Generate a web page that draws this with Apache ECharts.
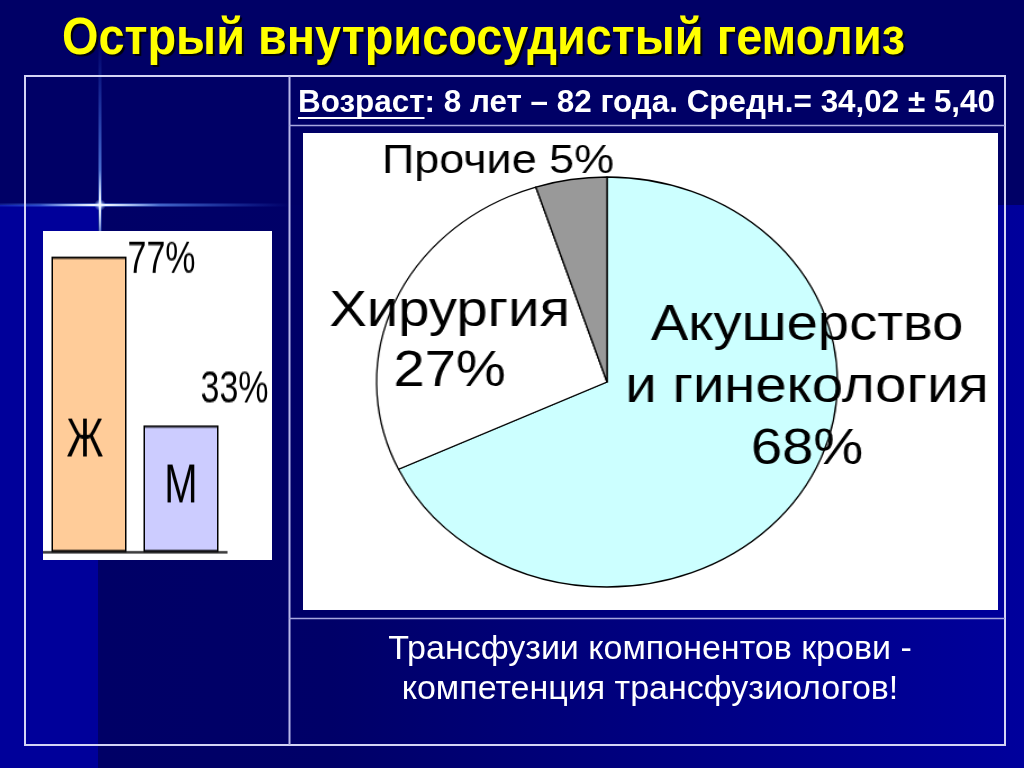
<!DOCTYPE html>
<html><head><meta charset="utf-8">
<script src="https://cdn.jsdelivr.net/npm/echarts@6/dist/echarts.min.js"></script>
<style>
html,body{margin:0;padding:0;background:#000066;overflow:hidden;width:1024px;height:768px}
#main{position:absolute;left:0;top:0;width:1024px;height:768px}
#bars{position:absolute;left:43px;top:231px;width:229px;height:244px;transform:scaleY(1.35);transform-origin:0 0}
#pie{position:absolute;left:303px;top:133px;width:695px;height:477px;transform:scaleX(1.124);transform-origin:304px 0}
</style></head><body>
<div id="main"></div><div id="bars"></div><div id="pie"></div>
<script>
// ---- data ----
const titleText = 'Острый внутрисосудистый гемолиз';
const ageLabel = 'Возраст';
const ageRest = ': 8 лет – 82 года. Средн.= 34,02 ± 5,40';
const noteLines = ['Трансфузии компонентов крови -', 'компетенция трансфузиологов!'];
const sexCategories = ['Ж', 'М'];
const sexValues = [77, 33];
const profileCategories = ['Акушерство\nи гинекология', 'Хирургия', 'Прочие'];
const profileValues = [68, 27, 5];

// ---- styles ----
const SANS = '"Liberation Sans",Arial,sans-serif';
const sexColors = ['#FFCC99', '#CCCCFF'];
const sexNameOffsets = [[-4, 28], [0, -1]];
const sexPctPos = [[76, -14], [57, -43]];
const profileColors = ['#CCFFFF', '#FFFFFF', '#999999'];
const profileLabelPos = [[482, 255, 62], [164, 209, 60], [207, 29, 44]];
const profileFontSize = [50, 50, 40];

function measure(text, font) {
  const c = document.createElement('canvas').getContext('2d');
  c.font = font; return c.measureText(text).width;
}
const titleFont = 'bold 52px ' + SANS;
const titleScale = 843 / measure(titleText, titleFont);
const ageFont = 'bold 32px ' + SANS;
const ageScale = 697 / measure(ageLabel + ageRest, ageFont);
const ageLabelW = measure(ageLabel, ageFont) * ageScale;

const G = echarts.graphic;
const lineCol = '#d4d4f4';
const graphics = [
  {type:'rect', shape:{x:0,y:0,width:1024,height:768}, style:{fill:'#00009a'}, z:-20, silent:true},
  {type:'rect', shape:{x:98,y:205,width:926,height:563}, style:{fill:new G.LinearGradient(0,0,1,0,[{offset:0,color:'#000066'},{offset:0.25,color:'#000068'},{offset:1,color:'#00009c'}])}, z:-19, silent:true},
  {type:'rect', shape:{x:0,y:0,width:1024,height:205}, style:{fill:'#000066'}, z:-18, silent:true},
  // star glow
  {type:'rect', shape:{x:0,y:203.5,width:290,height:3}, style:{fill:new G.LinearGradient(0,0,1,0,[{offset:0,color:'rgba(60,120,255,0.25)'},{offset:0.34,color:'rgba(120,170,255,0.95)'},{offset:1,color:'rgba(60,120,255,0)'}])}, z:-17, silent:true},
  {type:'rect', shape:{x:40,y:204,width:120,height:2}, style:{fill:new G.LinearGradient(0,0,1,0,[{offset:0,color:'rgba(255,255,255,0)'},{offset:0.5,color:'rgba(255,255,255,1)'},{offset:1,color:'rgba(255,255,255,0)'}])}, z:-16, silent:true},
  {type:'rect', shape:{x:98.5,y:40,width:3,height:200}, style:{fill:new G.LinearGradient(0,0,0,1,[{offset:0,color:'rgba(60,120,255,0)'},{offset:0.82,color:'rgba(120,170,255,0.85)'},{offset:1,color:'rgba(60,120,255,0.4)'}])}, z:-17, silent:true},
  {type:'rect', shape:{x:99,y:170,width:2,height:70}, style:{fill:new G.LinearGradient(0,0,0,1,[{offset:0,color:'rgba(255,255,255,0)'},{offset:0.5,color:'rgba(255,255,255,1)'},{offset:1,color:'rgba(255,255,255,0)'}])}, z:-16, silent:true},
  {type:'circle', shape:{cx:100,cy:205,r:6}, style:{fill:new G.RadialGradient(0.5,0.5,0.5,[{offset:0,color:'rgba(255,255,255,1)'},{offset:1,color:'rgba(150,190,255,0)'}])}, z:-15, silent:true},
  // table
  {type:'rect', shape:{x:25,y:76,width:980,height:669}, style:{fill:'none',stroke:lineCol,lineWidth:2}, z:-10, silent:true},
  {type:'line', shape:{x1:289.5,y1:76,x2:289.5,y2:745}, style:{stroke:'#b8b8e8',lineWidth:2}, z:-10, silent:true},
  {type:'line', shape:{x1:289,y1:125.5,x2:1005,y2:125.5}, style:{stroke:'#a8a8e0',lineWidth:1.5}, z:-10, silent:true},
  {type:'line', shape:{x1:289,y1:618.5,x2:1005,y2:618.5}, style:{stroke:'#a8a8e0',lineWidth:1.5}, z:-10, silent:true},
  // white boxes
  {type:'rect', shape:{x:43,y:231,width:229,height:329}, style:{fill:'#ffffff'}, z:-5, silent:true},
  {type:'rect', shape:{x:303,y:133,width:695,height:477}, style:{fill:'#ffffff'}, z:-5, silent:true},
  // texts
  {type:'text', x:62, y:40, scaleX:titleScale, style:{text:titleText, fill:'#ffff00', font:titleFont, textAlign:'left', textVerticalAlign:'middle', textShadowColor:'rgba(0,0,0,0.9)', textShadowOffsetX:2, textShadowOffsetY:2, textShadowBlur:1}, z:5, silent:true},
  {type:'text', x:298, y:103, scaleX:ageScale, style:{text:ageLabel + ageRest, fill:'#ffffff', font:ageFont, textAlign:'left', textVerticalAlign:'middle'}, z:5, silent:true},
  {type:'line', shape:{x1:298,y1:118,x2:298+ageLabelW,y2:118}, style:{stroke:'#ffffff',lineWidth:2}, z:5, silent:true},
  {type:'text', x:650, y:650, style:{text:noteLines[0], fill:'#ffffff', font:'34px ' + SANS, textAlign:'center', textVerticalAlign:'middle'}, z:5, silent:true},
  {type:'text', x:650, y:690, style:{text:noteLines[1], fill:'#ffffff', font:'34px ' + SANS, textAlign:'center', textVerticalAlign:'middle'}, z:5, silent:true}
];

const main = echarts.init(document.getElementById('main'), null, {renderer:'canvas'});
main.setOption({
  animation:false,
  backgroundColor:'transparent',
  graphic:{elements:graphics}
});

const bars = echarts.init(document.getElementById('bars'), null, {renderer:'canvas'});
bars.setOption({
  animation:false,
  backgroundColor:'transparent',
  grid:{left:0, top:10.4, width:184, height:227.4, containLabel:false},
  xAxis:{type:'category', data:sexCategories, axisLine:{show:true, lineStyle:{color:'#000', width:1.5}}, axisTick:{show:false}, axisLabel:{show:false}, splitLine:{show:false}},
  yAxis:{type:'value', min:0, max:80, show:false, splitLine:{show:false}},
  series:[
    {type:'bar', barWidth:75, z:3, silent:true,
     data:sexValues.map((v,i)=>({value:v, itemStyle:{color:sexColors[i], borderColor:'#000', borderWidth:1.5},
       label:{show:true, position:'inside', formatter:'{b}', offset:sexNameOffsets[i], fontSize:40, fontFamily:SANS, color:'#000'}}))},
    {type:'bar', barWidth:75, barGap:'-100%', z:4, silent:true,
     data:sexValues.map((v,i)=>({value:v, itemStyle:{color:'rgba(0,0,0,0)'},
       label:{show:true, position:sexPctPos[i], align:'left', verticalAlign:'top', formatter:'{c}%', fontSize:34, fontFamily:SANS, color:'#000'}}))}
  ]
});

const pie = echarts.init(document.getElementById('pie'), null, {renderer:'canvas'});
pie.setOption({
  animation:false,
  backgroundColor:'transparent',
  series:[{
    type:'pie', center:[304, 249], radius:205, startAngle:90, clockwise:true,
    avoidLabelOverlap:false, silent:true,
    itemStyle:{borderColor:'#000', borderWidth:1.3},
    labelLine:{show:false},
    label:{show:true, position:'inside', color:'#000', fontFamily:SANS,
      formatter:p => p.dataIndex === 2 ? p.name + ' ' + p.value + '%' : p.name + '\n' + p.value + '%'},
    labelLayout:p => ({x:profileLabelPos[p.dataIndex][0], y:profileLabelPos[p.dataIndex][1], align:'center', verticalAlign:'middle'}),
    data:profileCategories.map((n,i)=>({name:n, value:profileValues[i], itemStyle:{color:profileColors[i]},
      label:{fontSize:profileFontSize[i], lineHeight:profileLabelPos[i][2]}}))
  }]
});
</script>
</body></html>
